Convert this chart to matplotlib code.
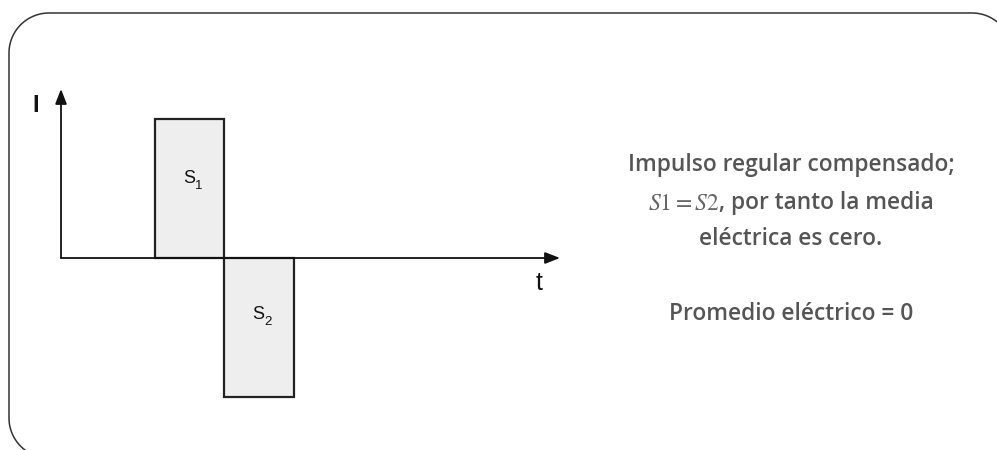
import matplotlib
matplotlib.use("Agg")
import matplotlib.pyplot as plt
import numpy as np

# ---- data ----
pulse_starts = [1.35, 2.35]
pulse_widths = [1.0, 1.0]
pulse_amplitudes = [1.0, -1.0]
pulse_names = ["S", "S"]
pulse_subs = ["1", "2"]
label_heights = [0.57, -0.41]
axis_labels = ["I", "t"]
text_lines = ["Impulso regular compensado;",
              ", por tanto la media",
              "eléctrica es cero.",
              "Promedio eléctrico = 0"]
math_part = r"$S1 = S2$"

plt.rcParams['mathtext.fontset'] = 'stix'

W, H, DPI = 997, 450, 100
fig = plt.figure(figsize=(W / DPI, H / DPI), dpi=DPI)
fig.patch.set_facecolor("white")

# pixel-space overlay axes for the frame (y down)
pax = fig.add_axes([0, 0, 1, 1])
pax.set_xlim(0, W)
pax.set_ylim(H, 0)
pax.axis("off")

def arc(cx_, cy_, r, a0, a1, n=40):
    a = np.radians(np.linspace(a0, a1, n))
    return np.column_stack([cx_ + r * np.cos(a), cy_ + r * np.sin(a)])

x0f, y0f, x1f, y1f, rr = 9, 13, 1012, 458, 40
frame_pts = np.vstack([
    arc(x1f - rr, y0f + rr, rr, 0, -90),      # top-right corner
    arc(x0f + rr, y0f + rr, rr, 270, 180),    # top-left corner
    arc(x0f + rr, y1f - rr, rr, 180, 90),     # bottom-left corner
])
pax.plot(frame_pts[:, 0], frame_pts[:, 1], color="#333333", lw=1.1)

# data axes: pixel x=61 -> t=0 (69.5 px/unit); y=258 -> 0 (139 px/unit)
x0_px, ux = 61.0, 69.5
y0_px, uy = 258.0, 139.0
ax = fig.add_axes([0, 0, 1, 1], facecolor="none")
ax.set_xlim(-x0_px / ux, (W - x0_px) / ux)
ax.set_ylim(-(H - y0_px) / uy, y0_px / uy)
ax.axis("off")

ax.bar(pulse_starts, pulse_amplitudes, width=pulse_widths, align="edge",
       color="#eeeeee", edgecolor="#222222", linewidth=1.6, zorder=2)

xmax = (560 - x0_px) / ux
ymax = (89 - y0_px) / -uy
for tip in [(xmax, 0), (0, ymax)]:
    ax.annotate("", xy=tip, xytext=(0, 0),
                arrowprops=dict(arrowstyle="-|>,head_length=0.9,head_width=0.35",
                                color="#111111", lw=1.3, shrinkA=0, shrinkB=0),
                zorder=3)

sans = ["Liberation Sans", "DejaVu Sans"]
ax.text((36 - x0_px) / ux, (y0_px - 106) / uy, axis_labels[0], fontsize=17,
        family=sans, ha="center", va="center", color="#111111", fontweight="bold")
ax.text((539 - x0_px) / ux, (y0_px - 283) / uy, axis_labels[1], fontsize=18,
        family=sans, ha="center", va="center", color="#111111")
for s, w, ly, nm, sb in zip(pulse_starts, pulse_widths, label_heights,
                            pulse_names, pulse_subs):
    xs = s + w * 0.49
    ax.text(xs, ly, nm, fontsize=13, family=sans, ha="center", va="center",
            color="#111111", zorder=4)
    ax.annotate(sb, xy=(xs, ly), xytext=(7, -5), textcoords="offset points",
                fontsize=9.5, family=sans, ha="center", va="center",
                color="#111111", zorder=4)

# right-hand text
tcol = "#555555"
cx = 791
fkw = dict(family=["Open Sans", "DejaVu Sans"], fontweight="semibold",
           fontsize=16.4, color=tcol)
pax.text(cx, 165, text_lines[0], ha="center", va="center", **fkw)
t_math = pax.text(0, 203, math_part, ha="left", va="center", fontsize=17,
                  color="#666666")
t_rest = pax.text(0, 203, text_lines[1], ha="left", va="center", **fkw)
fig.canvas.draw()
r = fig.canvas.get_renderer()
bm = t_math.get_window_extent(r)
br = t_rest.get_window_extent(r)
start = cx - (bm.width + br.width) / 2
t_math.set_x(start)
t_rest.set_x(start + bm.width)
pax.text(cx, 239, text_lines[2], ha="center", va="center", **fkw)
pax.text(cx, 314, text_lines[3], ha="center", va="center", **fkw)

fig.savefig("out.png", dpi=DPI, facecolor="white")
